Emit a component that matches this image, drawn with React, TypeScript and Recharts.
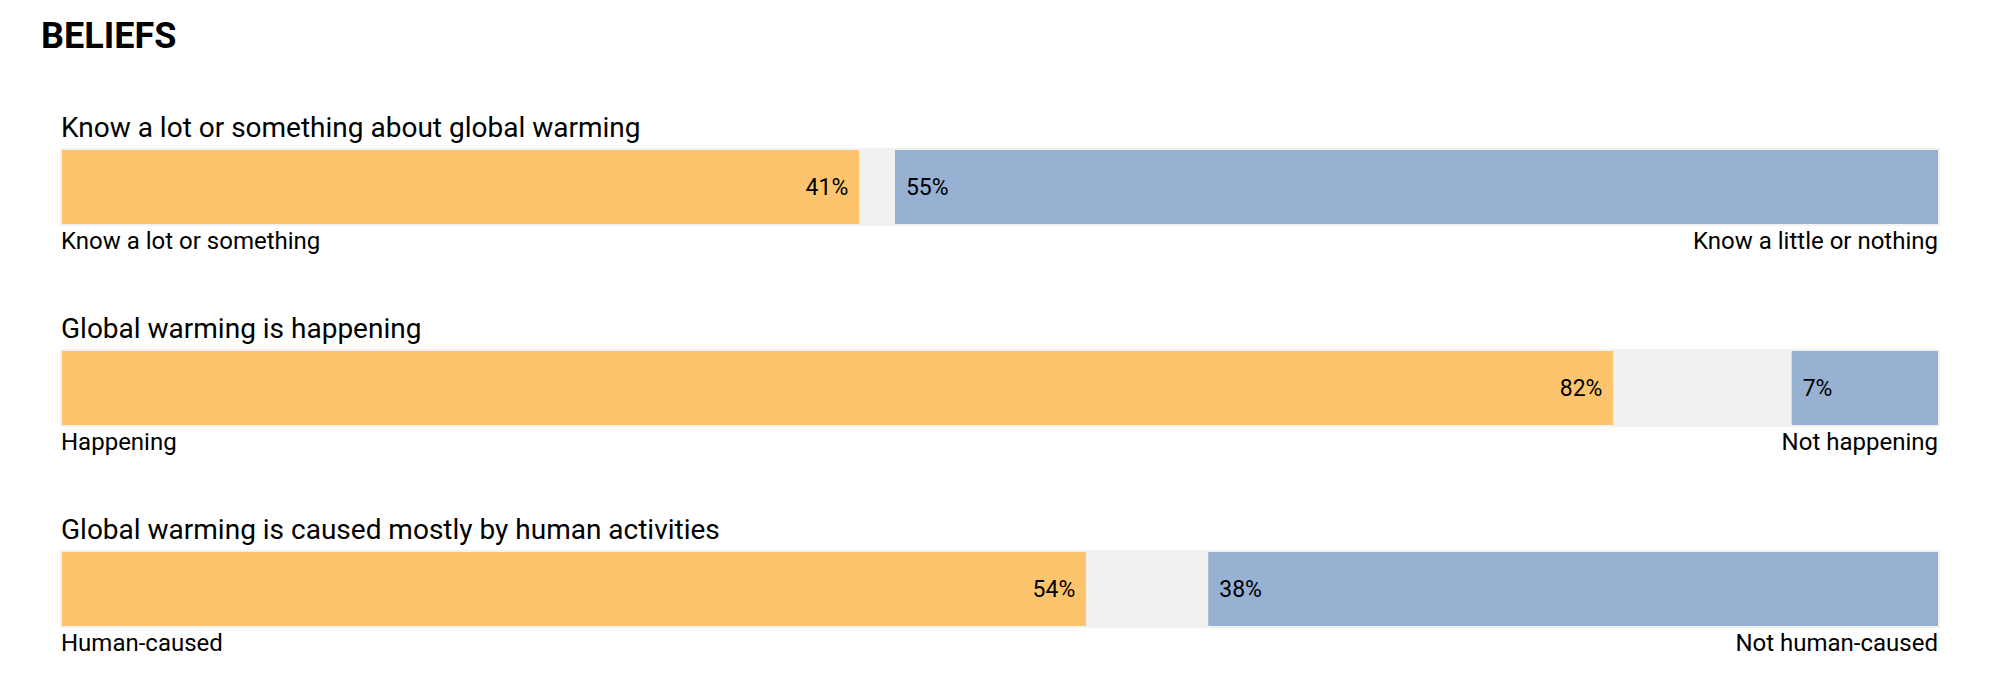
import { BarChart, Bar, XAxis, YAxis } from 'recharts';

const questions = [
  'Know a lot or something about global warming',
  'Global warming is happening',
  'Global warming is caused mostly by human activities',
];
const leftLabels = ['Know a lot or something', 'Happening', 'Human-caused'];
const rightLabels = ['Know a little or nothing', 'Not happening', 'Not human-caused'];

// printed percentages
const agreePct = ['41%', '82%', '54%'];
const disagreePct = ['55%', '7%', '38%'];

// bar extents as drawn (share of the full bar, %)
const agreeShare = [42.5, 82.7, 54.6];
const disagreeShare = [55.6, 7.8, 38.9];

const ORANGE = '#fcc46c';
const BLUE = '#97b1d3';
const GRAY = '#f1f1f1';
const FONT = 'Roboto, "Noto Sans", sans-serif';

const rows = questions.map((q, i) => ({
  question: q,
  left: leftLabels[i],
  right: rightLabels[i],
  agree: agreeShare[i],
  gap: 100 - agreeShare[i] - disagreeShare[i],
  disagree: disagreeShare[i],
  agreeLabel: agreePct[i],
  disagreeLabel: disagreePct[i],
}));

const Background = (props: any) => {
  const { x, y, width, height } = props;
  return <rect x={x - 2} y={y - 2} width={width + 4} height={height + 4} fill={GRAY} />;
};

const AgreeShape = (props: any) => {
  const { x, y, width, height, payload } = props;
  return (
    <g fontFamily={FONT} fill="#000">
      <rect x={x} y={y} width={width} height={height} fill={ORANGE} />
      <text x={x + width - 11} y={y + height / 2 + 7.5} textAnchor="end" fontSize={23}>
        {payload.agreeLabel}
      </text>
      <text x={x - 1} y={y - 13} fontSize={28}>
        {payload.question}
      </text>
      <text x={x - 1} y={y + height + 25} fontSize={24}>
        {payload.left}
      </text>
    </g>
  );
};

const DisagreeShape = (props: any) => {
  const { x, y, width, height, payload } = props;
  return (
    <g fontFamily={FONT} fill="#000">
      <rect x={x} y={y} width={width} height={height} fill={BLUE} />
      <text x={x + 11} y={y + height / 2 + 7.5} fontSize={23}>
        {payload.disagreeLabel}
      </text>
      <text x={x + width} y={y + height + 25} textAnchor="end" fontSize={24}>
        {payload.right}
      </text>
    </g>
  );
};

export default function App() {
  return (
    <div style={{ position: 'absolute', left: 0, top: 0, width: 2000, height: 690, background: '#fff' }}>
      <svg width={400} height={70} style={{ position: 'absolute', left: 0, top: 0 }}>
        <text x={41} y={48} fontFamily={FONT} fontSize={36} fontWeight={700} fill="#000">
          BELIEFS
        </text>
      </svg>
      <BarChart
        width={2000}
        height={690}
        data={rows}
        layout="vertical"
        margin={{ top: 86, right: 62, bottom: 1, left: 62 }}
        barSize={74}
      >
        <XAxis type="number" domain={[0, 100]} hide />
        <YAxis type="category" dataKey="question" hide />
        <Bar dataKey="agree" stackId="a" fill={ORANGE} background={Background} shape={AgreeShape} isAnimationActive={false} />
        <Bar dataKey="gap" stackId="a" fill={GRAY} isAnimationActive={false} />
        <Bar dataKey="disagree" stackId="a" fill={BLUE} shape={DisagreeShape} isAnimationActive={false} />
      </BarChart>
    </div>
  );
}
